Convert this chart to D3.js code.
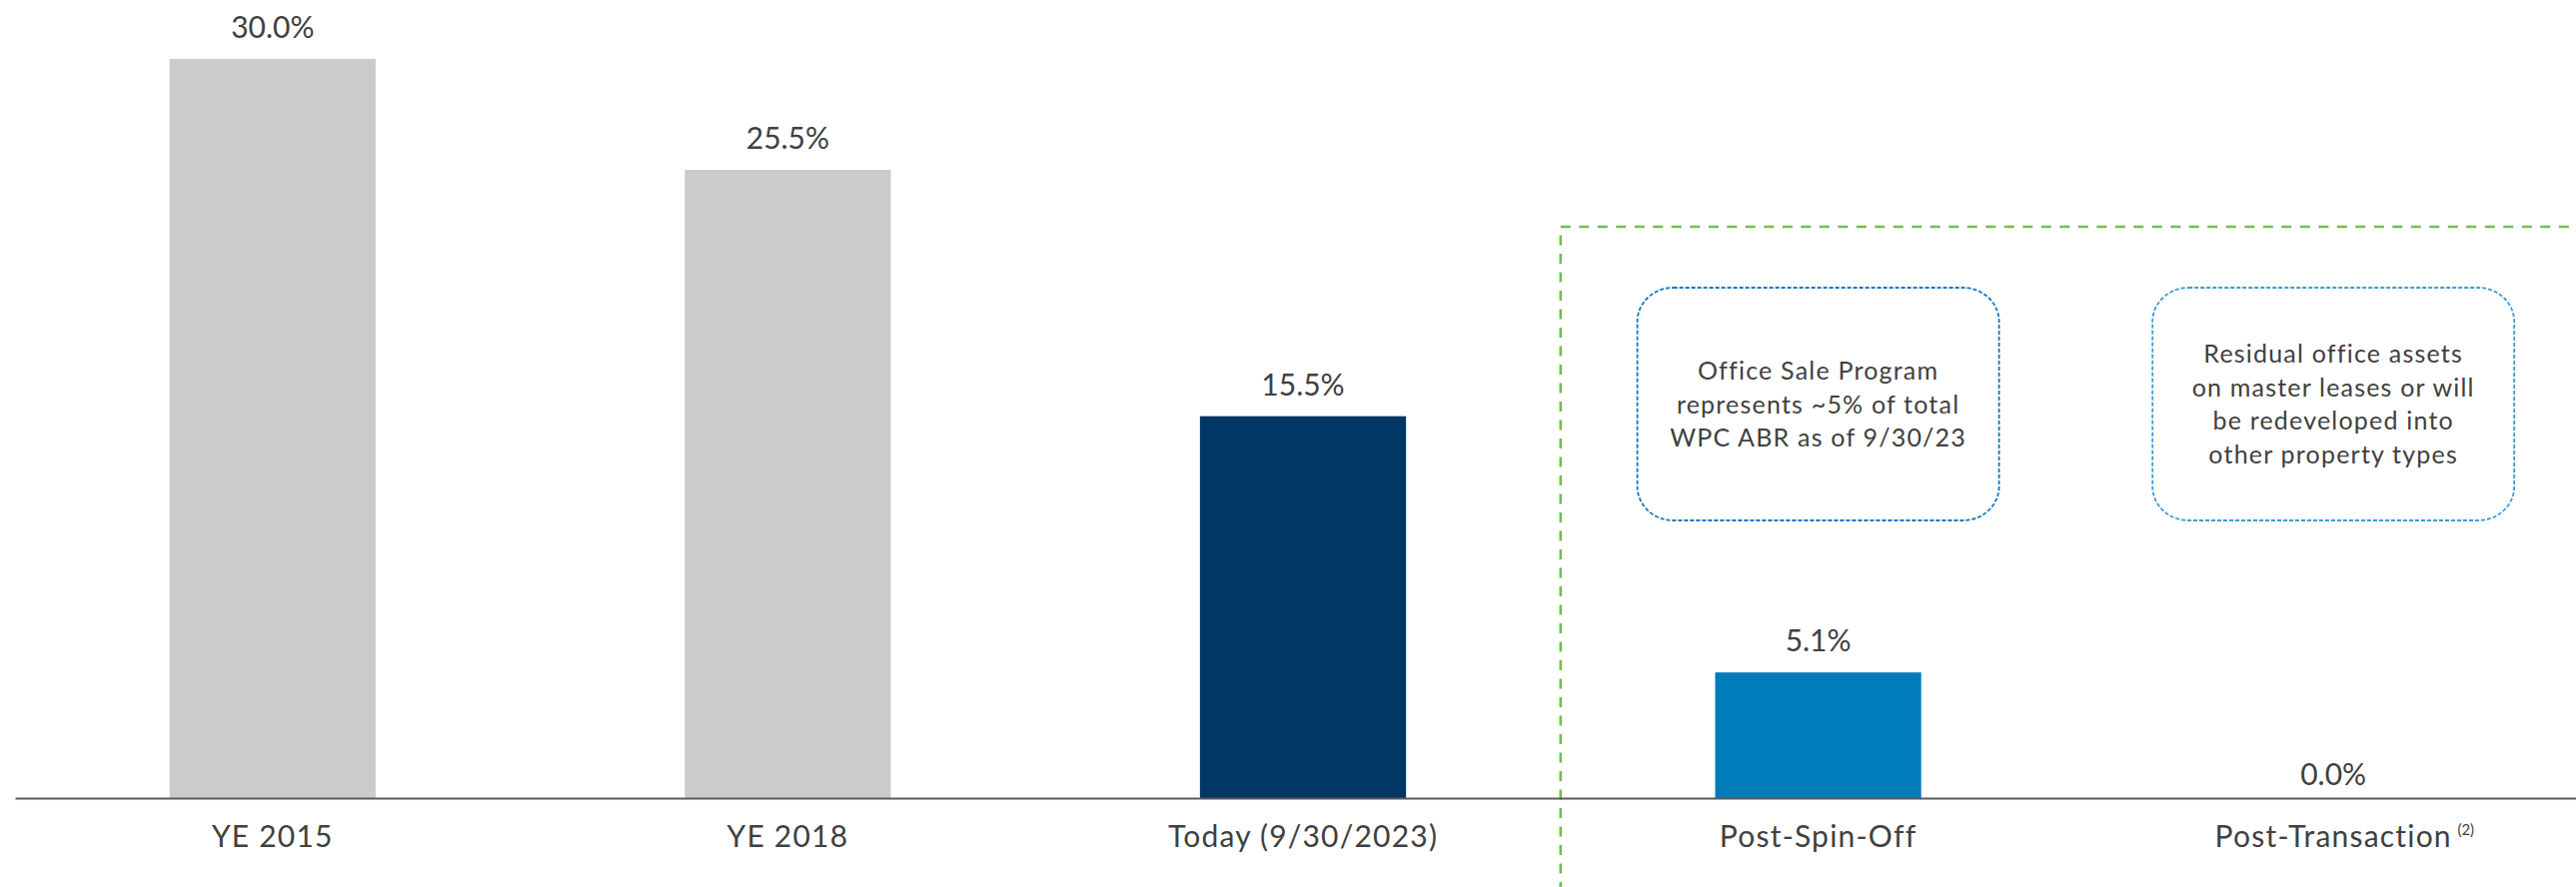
<!DOCTYPE html>
<html>
<head>
<meta charset="utf-8">
<script src="https://cdn.jsdelivr.net/npm/d3@7"></script>
<style>
  html, body { margin: 0; padding: 0; background: #fff; }
  svg { display: block; font-family: Lato, "Open Sans", sans-serif; }
</style>
</head>
<body>
<svg id="chart" width="2578" height="888"></svg>
<script>
// Office share of ABR over time
const categories = ["YE 2015", "YE 2018", "Today (9/30/2023)", "Post-Spin-Off", "Post-Transaction"];
const values = [30.0, 25.5, 15.5, 5.1, 0.0];
const barColors = ["#cbcbcd", "#cbcbcd", "#003764", "#007cba", "#007cba"];
const footnotes = ["", "", "", "", "(2)"];

// Callout notes placed over the pro-forma columns
const noteCategories = ["Post-Spin-Off", "Post-Transaction"];
const noteLines = [
  ["Office Sale Program", "represents ~5% of total", "WPC ABR as of 9/30/23"],
  ["Residual office assets", "on master leases or will", "be redeveloped into", "other property types"]
];
const noteColors = ["#1577bd", "#3d9bd6"];

const W = 2578, H = 888;
const axisY = 799;
const svg = d3.select("#chart");

const x = d3.scaleBand()
  .domain(categories)
  .range([15, 2593])
  .paddingInner(0.6)
  .paddingOuter(0.3);

const y = d3.scaleLinear()
  .domain([0, 30])
  .range([axisY, 59]);

const data = categories.map((c, i) => ({ cat: c, value: values[i], color: barColors[i], note: footnotes[i] }));

// Pro-forma region outline (green dashed), starting between "Today" and "Post-Spin-Off"
const splitX = (x("Today (9/30/2023)") + x.bandwidth() / 2 + x("Post-Spin-Off") + x.bandwidth() / 2) / 2;
svg.append("path")
  .attr("d", `M${splitX},${H + 5} L${splitX},227 L${W + 5},227`)
  .attr("fill", "none")
  .attr("stroke", "#6cc24a")
  .attr("stroke-width", 2.6)
  .attr("stroke-dasharray", "10,8.5");

// Bars
svg.append("g").selectAll("rect")
  .data(data.filter(d => d.value > 0))
  .join("rect")
  .attr("x", d => x(d.cat))
  .attr("y", d => y(d.value))
  .attr("width", x.bandwidth())
  .attr("height", d => y(0) - y(d.value))
  .attr("fill", d => d.color);

// Value labels
svg.append("g").selectAll("text")
  .data(data)
  .join("text")
  .attr("x", d => x(d.cat) + x.bandwidth() / 2)
  .attr("y", d => d.value > 0 ? y(d.value) - 21 : y(0) - 13)
  .attr("text-anchor", "middle")
  .attr("font-size", 30)
  .attr("fill", "#404040")
  .text(d => d.value.toFixed(1) + "%");

// Category axis
const axis = svg.append("g")
  .attr("transform", `translate(0,${axisY})`)
  .call(d3.axisBottom(x).tickSize(0).tickPadding(28));
axis.select(".domain")
  .attr("stroke", "#5a5a5a")
  .attr("stroke-width", 2);
axis.selectAll(".tick text")
  .attr("font-size", 30)
  .attr("font-family", "Lato, 'Open Sans', sans-serif")
  .attr("letter-spacing", 1.2)
  .attr("fill", "#404040");

// Footnote markers next to category labels
axis.selectAll(".tick").each(function(c) {
  const d = data.find(e => e.cat === c);
  if (!d.note) return;
  const t = d3.select(this).select("text");
  const half = t.node().getComputedTextLength() / 2;
  d3.select(this).append("text")
    .attr("x", half + 14)
    .attr("y", 28 + 21.3 - 12)
    .attr("font-size", 15)
    .attr("fill", "#404040")
    .attr("font-family", "Lato, 'Open Sans', sans-serif")
    .text(d.note);
});

// Callout boxes
const boxW = 362, boxTop = 288, boxBottom = 521, lineH = 33.5;
noteCategories.forEach((c, i) => {
  const cx = x(c) + x.bandwidth() / 2;
  const g = svg.append("g");
  g.append("rect")
    .attr("x", cx - boxW / 2)
    .attr("y", boxTop)
    .attr("width", boxW)
    .attr("height", boxBottom - boxTop)
    .attr("rx", 36)
    .attr("ry", 34)
    .attr("fill", "none")
    .attr("stroke", noteColors[i])
    .attr("stroke-width", 1.8)
    .attr("stroke-dasharray", "4,2");
  const lines = noteLines[i];
  const midY = (boxTop + boxBottom) / 2;
  const firstBaseline = midY - (lines.length - 1) * lineH / 2 + 9;
  g.append("text")
    .attr("text-anchor", "middle")
    .attr("font-size", 25)
    .attr("letter-spacing", 1.2)
    .attr("fill", "#404040")
    .selectAll("tspan")
    .data(lines)
    .join("tspan")
    .attr("x", cx)
    .attr("y", (d, j) => firstBaseline + j * lineH)
    .text(d => d);
});
</script>
</body>
</html>
